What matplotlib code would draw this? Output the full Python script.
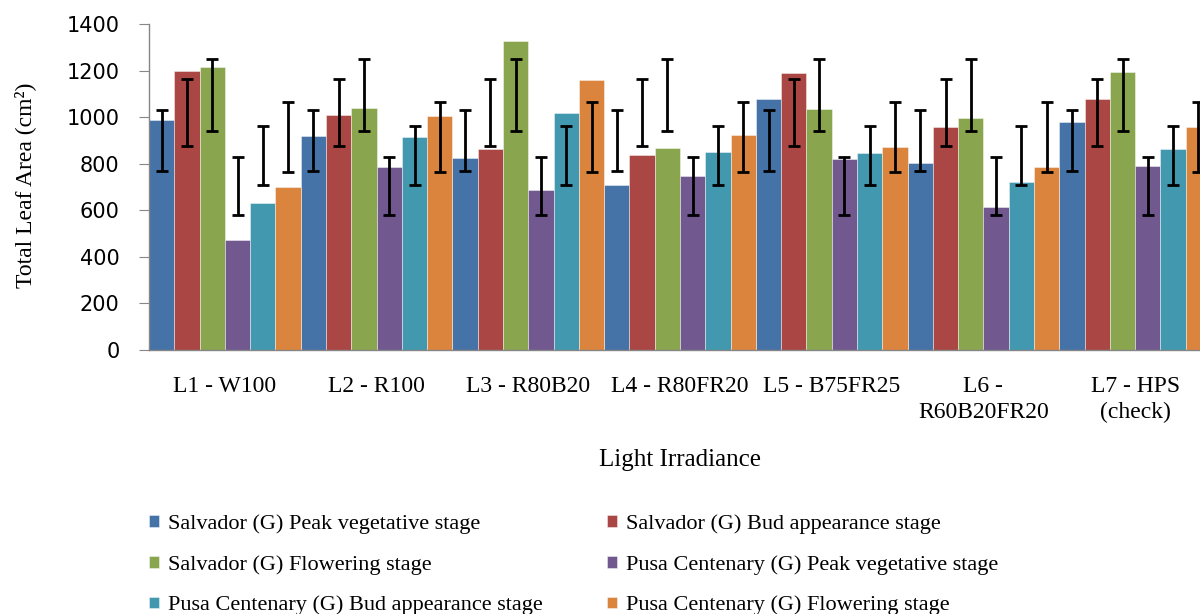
import numpy as np
import matplotlib
matplotlib.use("Agg")
import matplotlib.pyplot as plt

groups = ["L1 - W100", "L2 - R100", "L3 - R80B20", "L4 - R80FR20",
          "L5 - B75FR25", "L6 -\nR60B20FR20", "L7 - HPS\n(check)"]

series_names = ["Salvador (G) Peak vegetative stage",
                "Salvador (G) Bud appearance stage",
                "Salvador (G) Flowering stage",
                "Pusa Centenary (G) Peak vegetative stage",
                "Pusa Centenary (G) Bud appearance stage",
                "Pusa Centenary (G) Flowering stage"]

salvador_peak = [988, 921, 826, 708, 1080, 802, 982]
salvador_bud = [1200, 1008, 864, 838, 1189, 957, 1080]
salvador_flower = [1216, 1040, 1329, 869, 1038, 998, 1195]
pusa_peak = [473, 786, 688, 749, 822, 616, 792]
pusa_bud = [632, 915, 1018, 852, 848, 723, 862]
pusa_flower = [699, 1004, 1159, 925, 874, 786, 957]

# error bars sit at the same height in every group (one per series)
err_center = [900, 1021, 1097, 705, 836, 917]
err_half = [130, 144, 155, 125, 127, 150]

colors = ["#4572A7", "#AA4643", "#89A54E", "#71588F", "#4198AF", "#DB843D"]

values = [salvador_peak, salvador_bud, salvador_flower,
          pusa_peak, pusa_bud, pusa_flower]

serif = ["Liberation Serif", "DejaVu Serif"]

fig = plt.figure(figsize=(12, 6.14), dpi=100)
ax = fig.add_axes([149/1200, 264/614, 1062/1200, 325.7/614])

x = np.arange(len(groups))
width = 1/6
for j, vals in enumerate(values):
    pos = x + (j - 2.5) * width
    ax.bar(pos, vals, width, color=colors[j], label=series_names[j],
           edgecolor=(1, 1, 1, 0.5), linewidth=0.6, zorder=2)
    ax.errorbar(pos, [err_center[j]] * len(pos), yerr=err_half[j], fmt="none",
                ecolor="black", elinewidth=2.0, capsize=4.5, capthick=2.0, zorder=3)

ax.set_xlim(-0.5, len(groups) - 0.5)
ax.set_ylim(0, 1400)
ax.set_yticks(range(0, 1401, 200))
ax.set_xticks(x)
ax.set_xticklabels(groups, family=serif, fontsize=17, multialignment="center",
                   linespacing=1.3)
ax.tick_params(axis="x", length=0, pad=19)
ax.tick_params(axis="y", direction="out", length=7.2, color="#868686", pad=14,
               labelsize=15)
for lab in ax.get_yticklabels():
    lab.set_family("DejaVu Sans")

for s in ["top", "right"]:
    ax.spines[s].set_visible(False)
for s in ["left", "bottom"]:
    ax.spines[s].set_color("#868686")
    ax.spines[s].set_linewidth(1.0)

ax.set_xlabel("Light Irradiance", family=serif, fontsize=18)
ax.xaxis.set_label_coords(0.5, -0.305)
ax.set_ylabel("Total Leaf Area (cm²)", family=serif, fontsize=17)
ax.yaxis.set_label_coords(-0.106, 0.507)

# legend reads row by row: two entries per row
handles, labels = ax.get_legend_handles_labels()
order = [0, 2, 4, 1, 3, 5]
fig.legend([handles[i] for i in order], [labels[i] for i in order],
           loc="upper left", bbox_to_anchor=(149/1200, 1 - 514/614),
           ncol=2, frameon=False, prop={"family": serif, "size": 16},
           handlelength=0.45, handleheight=0.45, handletextpad=0.4,
           columnspacing=2.9, labelspacing=0.95, borderpad=0, borderaxespad=0)

fig.savefig("out.png", dpi=100)
